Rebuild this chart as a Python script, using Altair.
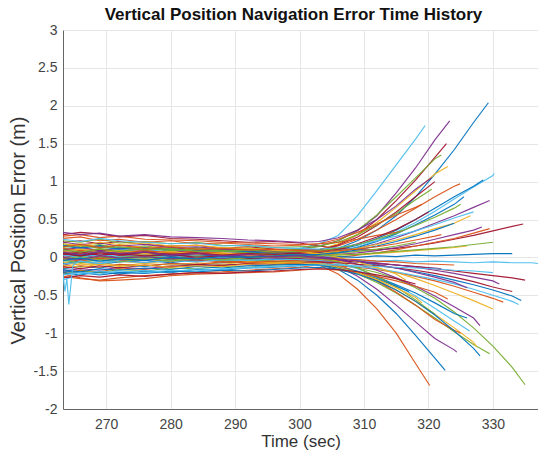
import altair as alt
import pandas as pd

# common sample times (sec)
G = [263.3, 266, 269, 272, 276, 280, 284, 288, 292, 296, 300, 303,
     306, 309, 312, 315, 318, 321, 324, 327, 330, 333, 336]

s01 = [0.12,0.10,0.14,0.10,0.08,0.11,0.07,0.09,0.08,0.10,0.12,0.18, 0.29,0.55,0.88,1.22,1.56]
s02 = [0.02,0.06,0.03,0.08,0.05,0.09,0.06,0.04,0.07,0.09,0.11,0.15, 0.22,0.35,0.55,0.85,1.18,1.55]
s03 = [0.05,0.01,0.04,0.0,0.03,0.01,0.05,0.02,0.04,0.03,0.06,0.08, 0.12,0.22,0.36,0.55,0.80,1.10,1.42,1.78]
s04 = [0.20,0.22,0.18,0.21,0.17,0.15,0.16,0.12,0.14,0.11,0.10,0.10, 0.17,0.30,0.50,0.75,1.02,1.32]
s05 = [-0.05,-0.02,-0.06,-0.03,0.0,-0.02,0.01,0.03,0.02,0.04,0.03,0.05, 0.08,0.14,0.22,0.33,0.46,0.61,0.77,0.93,1.08]
s06 = [0.15,0.12,0.16,0.13,0.10,0.12,0.09,0.10,0.07,0.08,0.07,0.06, 0.10,0.16,0.25,0.36,0.50,0.65,0.80,0.94]
s07 = [-0.10,-0.06,-0.08,-0.04,-0.07,-0.03,-0.05,-0.01,-0.02,0.0,0.03,0.05, 0.07,0.12,0.18,0.26,0.35,0.45,0.55,0.66]
s08 = [0.30,0.33,0.31,0.27,0.29,0.25,0.24,0.22,0.20,0.21,0.19,0.15, 0.12,0.10,0.10,0.12,0.15,0.19,0.24,0.29,0.35,0.41]
s09 = [0.08,0.05,0.10,0.06,0.09,0.05,0.08,0.06,0.05,0.07,0.08,0.10, 0.15,0.24,0.36,0.50,0.65,0.80,0.94]
s10 = [-0.12,-0.08,-0.10,-0.05,-0.08,-0.04,-0.02,-0.04,0.0,0.02,0.05,0.10, 0.18,0.30,0.46,0.66,0.88,1.10]
s11 = [0.18,0.14,0.17,0.12,0.15,0.11,0.13,0.10,0.12,0.10,0.11,0.14, 0.22,0.36,0.56,0.80,1.05,1.30]
s12 = [-0.20,-0.17,-0.19,-0.14,-0.16,-0.12,-0.10,-0.11,-0.08,-0.06,-0.04,-0.02, 0.0,0.03,0.06,0.10,0.15,0.20,0.25,0.32]
s13 = [0.10,0.13,0.09,0.12,0.10,0.13,0.10,0.12,0.09,0.08,0.06,0.04, 0.04,0.06,0.09,0.13,0.18,0.24,0.30,0.36]
s14 = [0.0,0.03,-0.01,0.02,0.04,0.01,0.03,0.05,0.03,0.06,0.08,0.10, 0.16,0.27,0.42,0.60,0.80]
s15 = [-0.15,-0.12,-0.14,-0.10,-0.12,-0.08,-0.10,-0.07,-0.05,-0.03,0.0,0.03, 0.07,0.13,0.21,0.31,0.43,0.56,0.70]
s16 = [0.22,0.20,0.24,0.19,0.21,0.18,0.20,0.16,0.15,0.13,0.14,0.15, 0.20,0.30,0.43,0.58,0.76]
s17 = [0.05,0.08,0.04,0.07,0.03,0.06,0.02,0.04,0.01,0.03,0.04,0.05, 0.08,0.12,0.17,0.23,0.30,0.38,0.45]
s18 = [0.25,0.27,0.22,0.24,0.20,0.22,0.18,0.19,0.17,0.15,0.16,0.18, 0.24,0.33,0.44,0.56,0.66]
s19 = [0.03,0.0,0.04,0.01,0.03,0.0,0.02,-0.01,0.01,0.0,-0.01,-0.02, -0.03,-0.04,-0.05,-0.04,-0.06,-0.05,-0.06,-0.07,-0.06,-0.07,-0.07]
s20 = [-0.08,-0.05,-0.09,-0.06,-0.04,-0.07,-0.03,-0.05,-0.02,-0.03,-0.01,0.0, 0.01,0.0,0.02,0.01,0.03,0.02,0.03,0.04,0.05]
s21 = [0.12,0.09,0.11,0.07,0.09,0.06,0.08,0.05,0.04,0.03,0.02,0.0, -0.02,-0.03,-0.05,-0.06,-0.08,-0.09]
s22 = [-0.02,0.01,-0.03,0.0,0.02,-0.01,0.01,0.03,0.02,0.04,0.03,0.04, 0.06,0.08,0.11,0.15]
s23 = [-0.18,-0.15,-0.17,-0.13,-0.15,-0.11,-0.12,-0.09,-0.10,-0.07,-0.06,-0.05, -0.05,-0.06,-0.08,-0.10,-0.12,-0.14]
s24 = [0.15,0.18,0.14,0.16,0.13,0.15,0.11,0.13,0.10,0.09,0.07,0.05, 0.04,0.04,0.05,0.07,0.09,0.11,0.13]
s25 = [-0.02,-0.05,-0.01,-0.04,-0.02,-0.05,-0.03,-0.06,-0.05,-0.07,-0.08,-0.10, -0.22,-0.42,-0.68,-1.00,-1.40]
s26 = [0.06,0.03,0.07,0.04,0.06,0.02,0.04,0.01,0.02,0.0,-0.03,-0.10, -0.16,-0.30,-0.50,-0.74,-1.03,-1.33]
s27 = [0.0,-0.03,0.01,-0.02,0.0,-0.03,-0.01,-0.04,-0.03,-0.05,-0.06,-0.08, -0.10,-0.14,-0.20,-0.28,-0.40,-0.54,-0.72,-0.93,-1.17,-1.45]
s28 = [-0.22,-0.18,-0.20,-0.16,-0.18,-0.14,-0.15,-0.12,-0.13,-0.10,-0.09,-0.10, -0.14,-0.22,-0.33,-0.47,-0.63,-0.80,-0.98,-1.15]
s29 = [0.10,0.07,0.09,0.05,0.07,0.04,0.05,0.02,0.03,0.0,-0.02,-0.05, -0.12,-0.25,-0.42,-0.63,-0.85,-1.07,-1.22]
s30 = [-0.06,-0.10,-0.07,-0.11,-0.08,-0.10,-0.07,-0.09,-0.06,-0.07,-0.06,-0.07, -0.12,-0.20,-0.30,-0.43,-0.58,-0.75,-0.93,-1.12]
s31 = [0.16,0.13,0.15,0.11,0.13,0.09,0.11,0.08,0.07,0.05,0.03,0.0, -0.03,-0.06,-0.10,-0.14,-0.19,-0.24,-0.30,-0.36,-0.43,-0.51]
s32 = [-0.25,-0.28,-0.30,-0.27,-0.24,-0.22,-0.20,-0.19,-0.17,-0.15,-0.13,-0.10, -0.11,-0.13,-0.16,-0.20,-0.25,-0.31,-0.38,-0.46,-0.54]
s33 = [0.04,0.07,0.03,0.05,0.02,0.04,0.0,0.02,-0.01,0.0,-0.02,-0.03, -0.04,-0.06,-0.08,-0.10,-0.12,-0.15,-0.18,-0.21,-0.24,-0.27]
s34 = [0.08,0.11,0.07,0.09,0.05,0.08,0.04,0.06,0.03,0.02,0.0,-0.02, -0.05,-0.09,-0.14,-0.20,-0.28,-0.37,-0.47,-0.57]
s35 = [-0.14,-0.11,-0.13,-0.09,-0.11,-0.08,-0.09,-0.06,-0.07,-0.05,-0.04,-0.05, -0.10,-0.19,-0.31,-0.46,-0.63,-0.82,-0.96]
s36 = [-0.09,-0.06,-0.08,-0.05,-0.07,-0.04,-0.06,-0.03,-0.04,-0.02,-0.03,-0.04, -0.08,-0.15,-0.25,-0.37,-0.51,-0.67,-0.84]
s37 = [0.20,0.17,0.19,0.15,0.17,0.13,0.14,0.11,0.10,0.08,0.05,0.02, -0.03,-0.09,-0.17,-0.27,-0.38,-0.51,-0.65,-0.80]
s38 = [-0.20,-0.23,-0.19,-0.22,-0.18,-0.20,-0.16,-0.17,-0.14,-0.13,-0.11,-0.10, -0.13,-0.18,-0.26,-0.36,-0.47,-0.60,-0.74]
s39 = [0.13,0.16,0.12,0.14,0.10,0.12,0.08,0.09,0.06,0.04,0.02,-0.01, -0.06,-0.14,-0.25,-0.39,-0.56]
s40 = [-0.12,-0.15,-0.11,-0.14,-0.10,-0.13,-0.09,-0.11,-0.08,-0.09,-0.07,-0.06, -0.07,-0.09,-0.11,-0.14,-0.17,-0.21,-0.26,-0.32,-0.39]
s41 = [-0.30,-0.22,-0.18,-0.20,-0.17,-0.19,-0.15,-0.16,-0.13,-0.12,-0.10,-0.08, -0.10,-0.12,-0.15,-0.19,-0.24,-0.29,-0.35,-0.42,-0.50,-0.58]
s42 = [0.0,-0.03,0.02,-0.01,0.01,-0.02,0.0,-0.02,0.01,-0.01,0.0,-0.01, -0.03,-0.05,-0.07,-0.10,-0.13,-0.17,-0.21,-0.26,-0.31]
s43 = [0.28,0.30,0.26,0.28,0.24,0.23,0.22,0.20,0.19,0.18,0.17,0.18, 0.20,0.24,0.29,0.33]
s44 = [-0.16,-0.19,-0.15,-0.17,-0.14,-0.16,-0.12,-0.14,-0.11,-0.10,-0.09,-0.10, -0.14,-0.20,-0.28,-0.38]
s45 = [0.05,0.02,0.06,0.03,0.07,0.04,0.06,0.03,0.05,0.04,0.06,0.07, 0.11,0.18,0.27,0.37,0.50]
s46 = [0.18,0.15,0.20,0.17,0.19,0.15,0.16,0.13,0.12,0.10,0.08,0.05, 0.0,-0.06,-0.13,-0.22]
s47 = [-0.22,-0.27,-0.31,-0.30,-0.28,-0.24,-0.22,-0.21,-0.20,-0.19,-0.17,-0.15, -0.17,-0.20,-0.25,-0.31,-0.38,-0.46]
s48 = [-0.04,-0.07,-0.03,-0.06,-0.02,-0.05,-0.01,-0.03,0.0,0.01,0.0,0.02, 0.03,0.04,0.06,0.08,0.10,0.12,0.14,0.17]
s49 = [0.33,0.30,0.32,0.28,0.30,0.27,0.26,0.25,0.23,0.22,0.20,0.21, 0.26,0.36,0.50,0.68,0.90]
s50 = [-0.18,-0.20,-0.23,-0.20,-0.21,-0.18,-0.19,-0.17,-0.18,-0.16,-0.14,-0.13, -0.16,-0.22,-0.31,-0.43,-0.58,-0.76,-0.97,-1.20]
s51 = [0.24,0.21,0.25,0.22,0.20,0.18,0.19,0.15,0.16,0.13,0.12,0.11, 0.13,0.17,0.22,0.28,0.35,0.43,0.52]
s52 = [-0.10,-0.13,-0.09,-0.12,-0.10,-0.13,-0.11,-0.12,-0.09,-0.08,-0.07,-0.08, -0.13,-0.20,-0.29,-0.40,-0.53]
s53 = [-0.27,-0.24,-0.26,-0.23,-0.25,-0.22,-0.20,-0.21,-0.19,-0.18,-0.16,-0.15, -0.16,-0.19,-0.23,-0.28]
s54 = [0.10,0.07,0.11,0.08,0.12,0.09,0.11,0.08,0.10,0.07,0.08,0.09, 0.12,0.17,0.24,0.32,0.42,0.53,0.65]
s55 = [-0.04,-0.01,-0.05,-0.02,-0.04,0.0,-0.02,0.01,0.0,0.02,0.03,0.04, 0.06,0.10,0.15,0.21,0.28,0.36]
s56 = [0.14,0.17,0.13,0.16,0.12,0.14,0.11,0.12,0.10,0.11,0.09,0.08, 0.09,0.11,0.14,0.18,0.23,0.28]
s57 = [0.07,0.04,0.08,0.05,0.07,0.03,0.05,0.02,0.04,0.01,0.02,0.0, -0.02,-0.05,-0.09,-0.14,-0.20,-0.26,-0.33]
s58 = [-0.23,-0.20,-0.22,-0.18,-0.20,-0.17,-0.18,-0.15,-0.14,-0.12,-0.11,-0.10, -0.10,-0.11,-0.12,-0.13,-0.14,-0.15,-0.17,-0.18]

series = [s01, s02, s03, s04, s05, s06, s07, s08, s09, s10, s11, s12, s13, s14, s15,
          s16, s17, s18, s19, s20, s21, s22, s23, s24, s25, s26, s27, s28, s29, s30,
          s31, s32, s33, s34, s35, s36, s37, s38, s39, s40, s41, s42, s43, s44, s45,
          s46, s47, s48, s49, s50, s51, s52, s53, s54, s55, s56, s57, s58]

end_t = [319.5, 323.3, 329.3, 322.8, 330.2, 328.5, 329.5, 334.7, 324.9, 323, 322, 329.5,
         328.3, 321, 325.5, 320.5, 326.5, 319, 337, 333, 324, 318, 322, 326, 320.2, 322.6,
         335, 329.5, 324.4, 327.5, 334.4, 331.6, 335, 330, 325, 326.4, 328, 326, 321, 333,
         334, 331, 316, 317, 320, 316.5, 323, 330, 320.5, 328, 327, 319, 318, 325, 324,
         322, 326, 330]
end_v = [1.74, 1.80, 2.04, 1.50, 1.11, 1.02, 0.75, 0.44, 0.97, 1.20, 1.35, 0.38,
         0.40, 1.00, 0.80, 0.90, 0.55, 0.70, -0.08, 0.05, -0.10, 0.20, -0.15, 0.15, -1.69, -1.49,
         -1.68, -1.27, -1.25, -1.18, -0.57, -0.59, -0.30, -0.68, -1.00, -0.97, -0.90, -0.80, -0.75, -0.45,
         -0.62, -0.35, 0.35, -0.45, 0.60, -0.30, -0.55, 0.20, 1.05, -1.30, 0.60, -0.60, -0.35, 0.70, 0.45,
         0.30, -0.40, -0.20]
color_idx = [5, 3, 0, 6, 5, 0, 3, 6, 1, 2, 4, 1, 3, 6, 0, 4, 2, 1, 5, 0, 1, 4, 3, 2, 1, 0,
             4, 4, 3, 2, 0, 1, 6, 2, 1, 5, 3, 0, 4, 6, 5, 3, 1, 0, 6, 2, 1, 4, 3, 0, 5, 2,
             6, 4, 0, 1, 3, 5]

# early cyan transient
spike_t = [263.3, 263.6, 263.9, 264.2, 264.5, 264.8, 265.2, 266, 269, 272]
spike_v = [-0.22, -0.45, -0.28, -0.62, -0.38, -0.12, -0.08, -0.05, -0.08, -0.04]

palette = ["#0072BD", "#D95319", "#EDB120", "#7E2F8E", "#77AC30", "#4DBEEE", "#A2142F"]

rows = []
for k, vals in enumerate(series):
    for t, v in zip(G, vals):
        if t < end_t[k]:
            rows.append({"run": k, "t": t, "v": v, "c": palette[color_idx[k]]})
    rows.append({"run": k, "t": end_t[k], "v": end_v[k], "c": palette[color_idx[k]]})
for t, v in zip(spike_t, spike_v):
    rows.append({"run": len(series), "t": t, "v": v, "c": palette[5]})
df = pd.DataFrame(rows)

FONT = "Liberation Sans"

chart = alt.Chart(df).mark_line(strokeWidth=1.15, clip=True, opacity=0.95).encode(
    x=alt.X("t:Q",
            scale=alt.Scale(domain=[263.3, 337], nice=False, zero=False),
            axis=alt.Axis(values=[270, 280, 290, 300, 310, 320, 330], title="Time (sec)",
                          format="d", titleFontSize=17)),
    y=alt.Y("v:Q",
            scale=alt.Scale(domain=[-2, 3], nice=False, zero=False),
            axis=alt.Axis(values=[-2, -1.5, -1, -0.5, 0, 0.5, 1, 1.5, 2, 2.5, 3],
                          title="Vertical Position Error (m)", titleFontSize=20,
                          titleY=200,
                          labelExpr="replace(format(datum.value, '.1~f'), '\u2212', '-')")),
    color=alt.Color("c:N", scale=None),
    detail="run:N",
).properties(
    width=475,
    height=379,
    title=alt.TitleParams("Vertical Position Navigation Error Time History",
                          fontSize=17, fontWeight="bold", font=FONT, color="#111111",
                          anchor="middle", dx=-7, dy=21, offset=7, baseline="alphabetic"),
    autosize=alt.AutoSizeParams(type="none"),
    padding={"left": 63, "top": 30, "right": 0, "bottom": 46},
).configure_view(
    stroke=None
).configure_axis(
    grid=True, gridColor="#e6e6e6", gridWidth=1,
    domainColor="#666666", domainWidth=1,
    ticks=True, tickSize=0,
    labelFont=FONT, labelFontSize=14, labelColor="#444444",
    titleFont=FONT, titleColor="#333333", titleFontWeight="normal",
).configure_axisX(
    labelPadding=8, titlePadding=2
).configure_axisY(
    labelPadding=6, titlePadding=4
)

chart.save("out.html", embed_options={"renderer": "svg", "actions": False})
